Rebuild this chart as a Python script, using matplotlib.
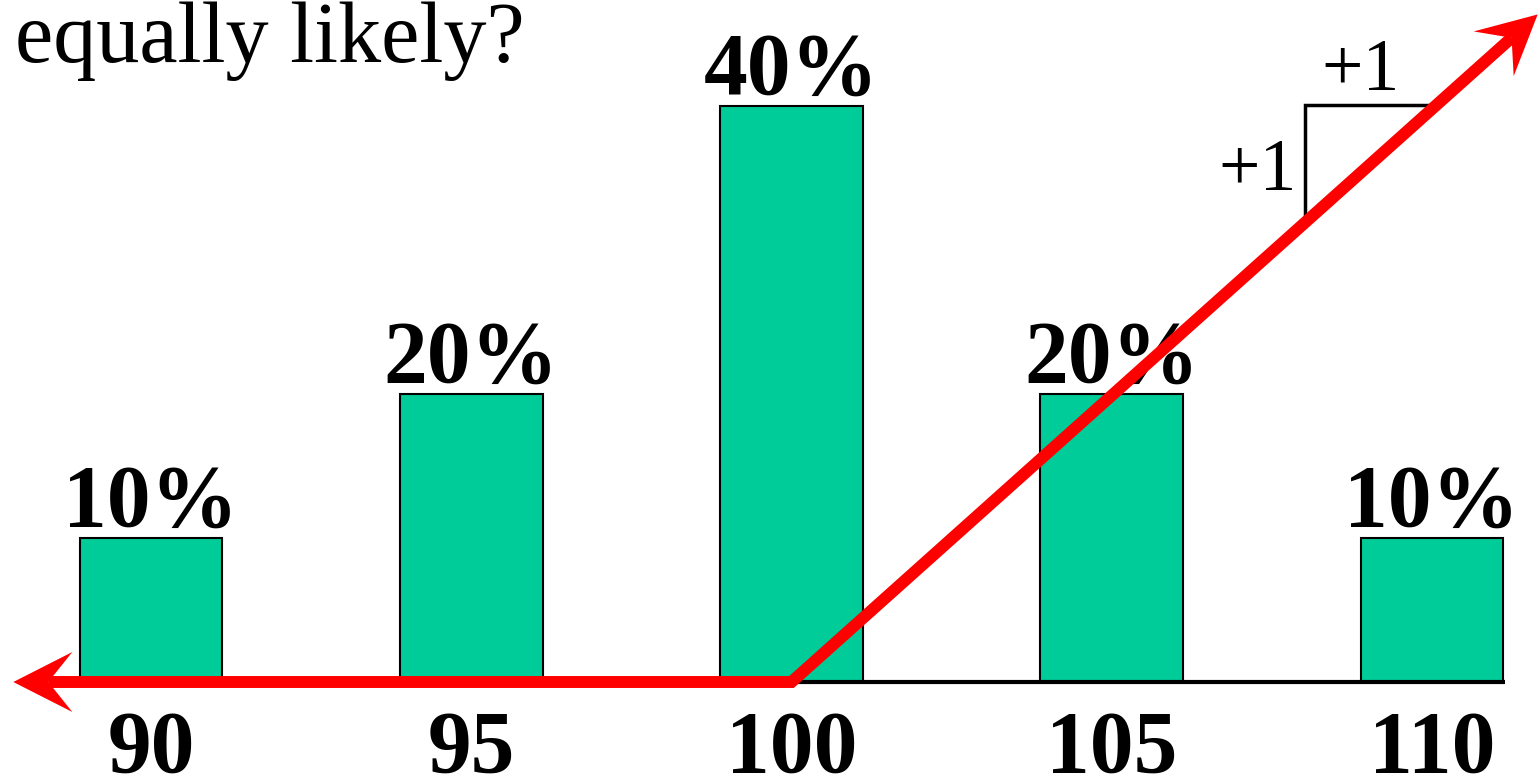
import matplotlib.pyplot as plt
from matplotlib.patches import Polygon
from matplotlib.transforms import IdentityTransform
import numpy as np

plt.rcParams['font.family'] = ['Liberation Serif', 'DejaVu Serif']

# stock prices and their probabilities (%)
prices = [90, 95, 100, 105, 110]
probs = [10, 20, 40, 20, 10]
price_labels = ['90', '95', '100', '105', '110']
prob_labels = ['10%', '20%', '40%', '20%', '10%']

# call payoff with strike 100
strike = 100
payoff_x = [87.85, 100, 111.65]
payoff_y = [max(s - strike, 0) for s in payoff_x]

green = '#00CC99'
red = '#FF0000'

fig = plt.figure(figsize=(15.39, 7.78), dpi=100)
ax = fig.add_axes([0, 0, 1, 1])
ax.set_xlim(87.642, 111.671)
ax.set_ylim(-6.667, 47.36)

ax.bar(prices, probs, width=2.23, color=green, edgecolor='black', linewidth=1.5, zorder=2)
ax.plot([88.88, 111.14], [0, 0], color='black', lw=3, solid_capstyle='butt', zorder=3)

for x, p, lab in zip(prices, probs, prob_labels):
    ax.annotate(lab, (x, p), xytext=(0, 9), textcoords='offset points',
                ha='center', va='baseline', fontsize=63, fontweight='bold')

for x, lab in zip(prices, price_labels):
    ax.text(x, -6.25, lab, ha='center', va='baseline', fontsize=63, fontweight='bold')

ax.axis('off')

fig.text(15 / 1539, 1 - 62 / 778, 'equally likely?', fontsize=62, ha='left', va='baseline')

# payoff on its own vertical scale
ax2 = ax.twinx()
ax2.set_ylim(-96 / 57.3, 682 / 57.3)
ax2.axis('off')

LENGTH, HALF, NOTCH = 59, 30, 35


def pull_back(axes, p_from, p_to, dist):
    # move p_to back towards p_from by dist pixels
    a = axes.transData.transform(p_from)
    b = axes.transData.transform(p_to)
    d = (b - a) / np.hypot(*(b - a))
    return axes.transData.inverted().transform(b - d * dist)


def arrow_head(axes, p_from, p_to):
    a = axes.transData.transform(p_from)
    tip = axes.transData.transform(p_to)
    d = (tip - a) / np.hypot(*(tip - a))
    n = np.array([-d[1], d[0]])
    pts = [tip, tip - d * LENGTH + n * HALF, tip - d * NOTCH, tip - d * LENGTH - n * HALF]
    fig.patches.append(Polygon(pts, closed=True, facecolor=red, edgecolor='none',
                               transform=IdentityTransform(), figure=fig, zorder=6))


knee = (payoff_x[1], payoff_y[1])
left_end = (payoff_x[0], payoff_y[0])
right_end = (payoff_x[-1], payoff_y[-1])
p0 = pull_back(ax2, knee, left_end, NOTCH)
p2 = pull_back(ax2, knee, right_end, NOTCH)
ax2.plot([p0[0], knee[0], p2[0]], [p0[1], knee[1], p2[1]], color=red, lw=8.6,
         solid_capstyle='butt', solid_joinstyle='miter', zorder=5)
arrow_head(ax2, knee, left_end)
arrow_head(ax2, knee, right_end)

# slope triangle
ax2.plot([108.02, 108.02, 109.97], [8.15, 10.07, 10.07], color='black', lw=2.5,
         solid_joinstyle='miter', zorder=4)
ax2.text(108.88, 10.33, '+1', ha='center', va='baseline', fontsize=53)
ax2.text(107.88, 8.59, '+1', ha='right', va='baseline', fontsize=53)

fig.savefig('out.png', dpi=100)
